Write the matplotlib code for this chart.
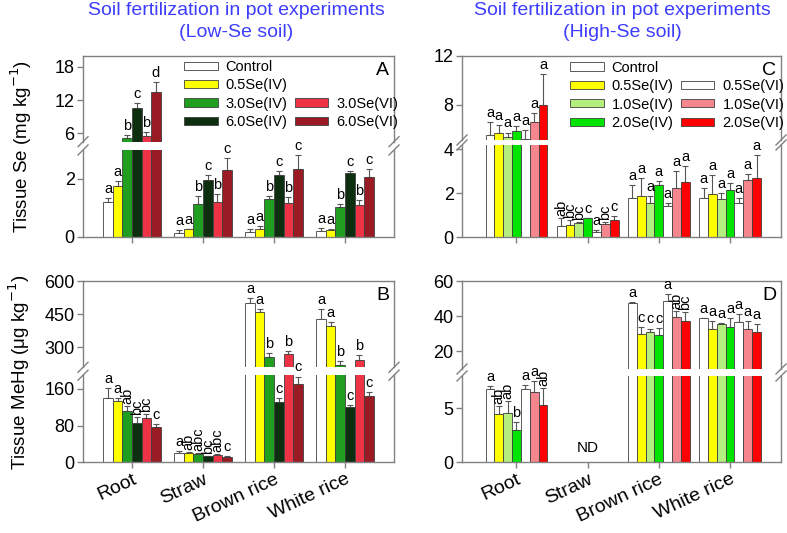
import numpy as np
import matplotlib
matplotlib.use('Agg')
import matplotlib.pyplot as plt
from matplotlib.patches import Patch

plt.rcParams['font.family'] = ['Liberation Sans', 'DejaVu Sans']

tissues = ['Root', 'Straw', 'Brown rice', 'White rice']

# ---------- Low-Se soil (panels A, B) ----------
treat_low = ['Control', '0.5Se(IV)', '3.0Se(IV)', '6.0Se(IV)', '3.0Se(VI)', '6.0Se(VI)']
colors_low = ['#ffffff', '#ffff00', '#1f9e1f', '#0d2e0f', '#ef3347', '#9b1b24']

se_low = [[1.21, 1.77, 5.2, 10.5, 5.6, 13.4],
          [0.14, 0.25, 1.13, 1.96, 1.20, 2.30],
          [0.16, 0.28, 1.31, 2.12, 1.17, 2.35],
          [0.18, 0.22, 1.03, 2.20, 1.10, 2.07]]
se_low_err = [[0.12, 0.17, 0.5, 1.0, 0.6, 1.9],
              [0.10, 0.03, 0.29, 0.16, 0.27, 0.42],
              [0.11, 0.08, 0.11, 0.16, 0.21, 0.46],
              [0.11, 0.05, 0.11, 0.08, 0.16, 0.27]]
se_low_lab = [['a', 'a', 'b', 'c', 'b', 'd'],
              ['a', 'a', 'b', 'c', 'b', 'c'],
              ['a', 'a', 'b', 'c', 'b', 'c'],
              ['a', 'a', 'b', 'c', 'b', 'c']]

hg_low = [[139.6, 134.4, 112.6, 85.8, 97.4, 77.8],
          [20.3, 20.3, 17.4, 13.8, 16.7, 12.4],
          [499, 461, 255, 132, 270, 171],
          [429, 396, 222, 120, 244, 145]]
hg_low_err = [[22, 6.6, 11, 12, 7.3, 5.8],
              [4.4, 1.1, 2.2, 0.7, 2.2, 1.4],
              [22, 13, 18, 7.6, 15, 16],
              [43, 18, 18, 5, 23, 8]]
hg_low_lab = [['a', 'a', 'ab', 'bc', 'bc', 'c'],
              ['a', 'ab', 'abc', 'bc', 'abc', 'c'],
              ['a', 'a', 'b', 'c', 'b', 'c'],
              ['a', 'a', 'b', 'c', 'b', 'c']]

# ---------- High-Se soil (panels C, D) ----------
treat_high = ['Control', '0.5Se(IV)', '1.0Se(IV)', '2.0Se(IV)', '0.5Se(VI)', '1.0Se(VI)', '2.0Se(VI)']
colors_high = ['#ffffff', '#ffff00', '#b4ee7e', '#00e400', '#ffffff', '#f6868e', '#ff0000']

se_high = [[5.5, 5.65, 5.36, 5.8, 5.2, 6.6, 8.0],
           [0.49, 0.57, 0.66, 0.85, 0.25, 0.61, 0.79],
           [1.76, 1.87, 1.57, 2.38, 1.43, 2.25, 2.50],
           [1.76, 1.98, 1.75, 2.15, 1.53, 2.58, 2.69]]
se_high_err = [[1.1, 0.7, 0.35, 0.45, 0.7, 0.7, 2.5],
               [0.39, 0.19, 0.03, 0.02, 0.08, 0.09, 0.17],
               [0.63, 0.84, 0.30, 0.17, 0.10, 0.75, 0.74],
               [0.49, 0.85, 0.25, 0.30, 0.25, 0.30, 1.06]]
se_high_lab = [['a', 'a', 'a', 'a', 'a', 'a', 'a'],
               ['ab', 'bc', 'bc', 'c', 'a', 'bc', 'c'],
               ['a', 'a', 'a', 'a', 'a', 'a', 'a'],
               ['a', 'a', 'a', 'a', 'a', 'a', 'a']]

nan = np.nan
hg_high = [[6.8, 4.5, 4.55, 3.0, 6.8, 6.5, 5.35],
           [nan, nan, nan, nan, nan, nan, nan],
           [47.4, 30.0, 31.1, 29.3, 48.9, 39.8, 37.4],
           [38.7, 33.0, 35.7, 33.8, 36.8, 32.7, 30.8]]
hg_high_err = [[0.3, 0.7, 1.1, 0.75, 0.35, 1.0, 1.5],
               [nan, nan, nan, nan, nan, nan, nan],
               [0.9, 4.1, 1.9, 4.1, 3.6, 3.2, 5.2],
               [0.3, 4.0, 0.6, 5.1, 4.2, 4.3, 4.9]]
hg_high_lab = [['a', 'ab', 'ab', 'b', 'a', 'a', 'ab'],
               ['', '', '', '', '', '', ''],
               ['a', 'c', 'c', 'c', 'a', 'ab', 'bc'],
               ['a', 'a', 'a', 'a', 'a', 'a', 'a']]

W, H = 787, 533
fig = plt.figure(figsize=(W / 100, H / 100), dpi=100)

SPINE = '#808080'
EDGE = '#404040'


def px_axes(x0, x1, ytop, ybot):
    return fig.add_axes([x0 / W, 1 - ybot / H, (x1 - x0) / W, (ybot - ytop) / H])


def draw(ax_top, ax_bot, vals, errs, labs, colors, width, xlim, top_lim, bot_lim,
         top_ticks, bot_ticks, show_xlabels):
    vals = np.array(vals, float)
    errs = np.array(errs, float)
    nt, nb = vals.shape
    x = np.arange(1, nt + 1)
    offs = (np.arange(nb) - (nb - 1) / 2) * width
    for ax in (ax_top, ax_bot):
        for j in range(nb):
            v = vals[:, j]
            e = errs[:, j]
            ok = ~np.isnan(v)
            ax.errorbar(x[ok] + offs[j], v[ok], yerr=[np.zeros(ok.sum()), e[ok]],
                        fmt='none', ecolor='#555555', elinewidth=0.8, capsize=2.2,
                        capthick=0.8, zorder=1)
            ax.bar(x[ok] + offs[j], v[ok], width, color=colors[j], edgecolor=EDGE,
                   linewidth=0.6, zorder=2)
        ax.set_xlim(xlim)
        for s in ax.spines.values():
            s.set_color(SPINE)
            s.set_linewidth(1.0)
        ax.tick_params(axis='y', direction='out', length=4, width=1, color=SPINE,
                       labelsize=13, pad=2)
        ax.tick_params(axis='x', direction='out', length=4, width=1, color=SPINE,
                       labelsize=14, pad=2)
    ax_top.set_ylim(top_lim)
    ax_bot.set_ylim(bot_lim)
    ax_top.spines['bottom'].set_visible(False)
    ax_bot.spines['top'].set_visible(False)
    ax_top.set_xticks([])
    ax_top.set_yticks(top_ticks)
    ax_bot.set_yticks(bot_ticks)
    ax_bot.set_xticks(x)
    if show_xlabels:
        ax_bot.set_xticklabels(tissues, rotation=25, ha='right', rotation_mode='anchor')
    else:
        ax_bot.set_xticklabels([])
    for i in range(nt):
        for j in range(nb):
            lab = labs[i][j]
            if not lab or np.isnan(vals[i, j]):
                continue
            top = vals[i, j] + errs[i, j]
            ax = ax_top if vals[i, j] > bot_lim[1] else ax_bot
            rot = 90 if len(lab) > 1 else 0
            ax.annotate(lab, (x[i] + offs[j], top), xytext=(0, 1.5),
                        textcoords='offset points', ha='center', va='bottom',
                        rotation=rot, fontsize=10.5, annotation_clip=False)
    # break marks
    pt = ax_top.get_position()
    pb = ax_bot.get_position()
    dx, dy = 5 / W, 5 / H
    for xs in (pt.x0, pt.x1):
        for yy in (pb.y1, pt.y0):
            fig.add_artist(plt.Line2D([xs - dx, xs + dx], [yy - dy, yy + dy],
                                      transform=fig.transFigure, color=SPINE, lw=1))


def legend(ax, treatments, colors, anchor):
    col1 = [(t, c) for t, c in zip(treatments, colors) if 'VI)' not in t]
    col2 = [(t, c) for t, c in zip(treatments, colors) if 'VI)' in t]
    col2 = [None] * (len(col1) - len(col2)) + col2
    handles = []
    for item in col1 + col2:
        if item is None:
            handles.append(Patch(facecolor='none', edgecolor='none', label=''))
        else:
            handles.append(Patch(facecolor=item[1], edgecolor=EDGE, linewidth=0.6, label=item[0]))
    ax.legend(handles=handles, ncol=2, loc='upper left', bbox_to_anchor=anchor,
              frameon=False, fontsize=10.5, handlelength=2.3, handleheight=0.5,
              handletextpad=0.55, columnspacing=0.5, labelspacing=0.3,
              borderpad=0, borderaxespad=0)


# Panel A
axA_t = px_axes(83, 394, 55.7, 141.7)
axA_b = px_axes(83, 394, 150, 236.7)
draw(axA_t, axA_b, se_low, se_low_err, se_low_lab, colors_low, 0.135, (0.31, 4.69),
     (4.5, 20), (0, 3), [6, 12, 18], [0, 2], False)
legend(axA_t, treat_low, colors_low, (0.325, 0.95))
axA_t.text(0.985, 0.93, 'A', transform=axA_t.transAxes, ha='right', va='top', fontsize=14)

# Panel B
axB_t = px_axes(83, 394, 281, 367.3)
axB_b = px_axes(83, 394, 375.2, 462.3)
draw(axB_t, axB_b, hg_low, hg_low_err, hg_low_lab, colors_low, 0.135, (0.31, 4.69),
     (210, 600), (0, 190), [300, 450, 600], [0, 80, 160], True)
axB_t.text(0.985, 0.93, 'B', transform=axB_t.transAxes, ha='right', va='top', fontsize=14)

# Panel C
axC_t = px_axes(462, 781, 55.7, 140)
axC_b = px_axes(462, 781, 145, 237)
draw(axC_t, axC_b, se_high, se_high_err, se_high_lab, colors_high, 0.124, (0.235, 4.716),
     (5.1, 12), (0, 4.2), [8, 12], [0, 2, 4], False)
legend(axC_t, treat_high, colors_high, (0.339, 0.94))
axC_t.text(0.985, 0.93, 'C', transform=axC_t.transAxes, ha='right', va='top', fontsize=14)

# Panel D
axD_t = px_axes(462, 781, 281, 369)
axD_b = px_axes(462, 781, 376, 462.3)
draw(axD_t, axD_b, hg_high, hg_high_err, hg_high_lab, colors_high, 0.124, (0.235, 4.716),
     (10, 60), (0, 8), [20, 40, 60], [0, 5], True)
axD_b.text(2, 1.35, 'ND', ha='center', va='center', fontsize=11)
axD_t.text(0.985, 0.93, 'D', transform=axD_t.transAxes, ha='right', va='top', fontsize=14)

# Titles and y labels
tcol = '#3d3dff'
fig.text(236 / W, 1 - 2 / H, 'Soil fertilization in pot experiments\n(Low-Se soil)',
         ha='center', va='top', color=tcol, fontsize=14, linespacing=1.4)
fig.text(622 / W, 1 - 2 / H, 'Soil fertilization in pot experiments\n(High-Se soil)',
         ha='center', va='top', color=tcol, fontsize=14, linespacing=1.4)
fig.text(21 / W, 1 - 146 / H, 'Tissue Se (mg kg$^{-1}$)', rotation=90,
         ha='center', va='center', fontsize=13.5)
fig.text(19 / W, 1 - 372 / H, 'Tissue MeHg (\u03bcg kg$^{-1}$)', rotation=90,
         ha='center', va='center', fontsize=13.5)

fig.savefig('out.png', dpi=100)
